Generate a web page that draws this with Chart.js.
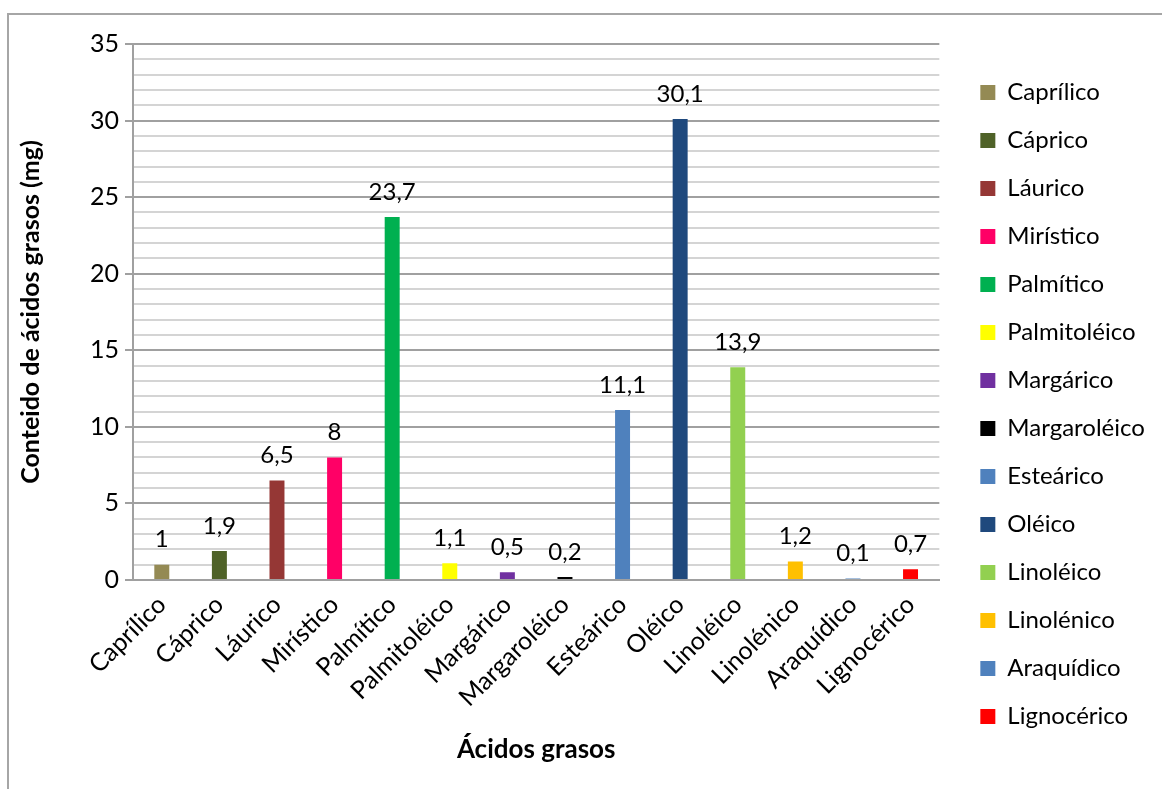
<!DOCTYPE html>
<html>
<head>
<meta charset="utf-8">
<script src="https://cdn.jsdelivr.net/npm/chart.js@4.4.1/dist/chart.umd.min.js"></script>
<style>
  html, body { margin: 0; padding: 0; background: #fff; overflow: hidden; }
  .chart-container { position: relative; width: 1162px; height: 789px; }
  .frame { position: absolute; left: 7px; top: 13px; width: 1200px; height: 800px; border: 2px solid #a6a6a6; box-sizing: border-box; }
  canvas { position: absolute; left: 0; top: 0; }
</style>
</head>
<body>
<div class="chart-container">
  <div class="frame"></div>
  <canvas id="fattyChart" width="1162" height="789"></canvas>
</div>
<script>
const categories = ['Caprílico', 'Cáprico', 'Láurico', 'Mirístico', 'Palmítico', 'Palmitoléico', 'Margárico',
    'Margaroléico', 'Esteárico', 'Oléico', 'Linoléico', 'Linolénico', 'Araquídico', 'Lignocérico'];
const values = [1, 1.9, 6.5, 8, 23.7, 1.1, 0.5, 0.2, 11.1, 30.1, 13.9, 1.2, 0.1, 0.7];
const barColors = ['#948a54', '#4f6228', '#953735', '#ff0066', '#00b050', '#ffff00', '#7030a0',
    '#000000', '#4f81bd', '#1f497d', '#92d050', '#ffc000', '#4f81bd', '#ff0000'];
const yMin = 0;
const yMax = 35;
const yLabelStep = 5;

const fmt = v => String(v).replace('.', ',');

// value labels above each bar
const barLabels = {
    id: 'barLabels',
    afterDatasetsDraw(chart) {
        const ctx = chart.ctx;
        const meta = chart.getDatasetMeta(0);
        ctx.save();
        ctx.font = '24px Lato';
        ctx.fillStyle = '#000';
        ctx.textAlign = 'center';
        ctx.textBaseline = 'bottom';
        meta.data.forEach((bar, i) => {
            ctx.fillText(fmt(values[i]), bar.x, bar.y - 13);
        });
        ctx.restore();
    }
};

const ctx = document.getElementById('fattyChart').getContext('2d');
const chart = new Chart(ctx, {
    type: 'bar',
    data: {
        labels: categories,
        datasets: [{
            data: values,
            backgroundColor: barColors,
            categoryPercentage: 1,
            barPercentage: 0.26
        }]
    },
    options: {
        responsive: false,
        animation: false,
        layout: { padding: { left: 8, top: 44, right: 16, bottom: 24 } },
        scales: {
            x: {
                grid: { display: false },
                border: { display: true, color: '#a0a0a0', width: 2 },
                ticks: {
                    color: '#000',
                    font: { family: 'Lato', size: 25 },
                    minRotation: 45,
                    maxRotation: 45,
                    padding: 2
                },
                title: {
                    display: true,
                    text: 'Ácidos grasos',
                    color: '#000',
                    font: { family: 'Lato', size: 26, weight: 'bold' },
                    padding: { top: 4, bottom: 0 }
                },
                afterFit(scale) { scale.height = 185; }
            },
            y: {
                min: yMin,
                max: yMax,
                grid: {
                    color: c => (c.tick && c.tick.value % yLabelStep === 0) ? '#a0a0a0' : '#d4d4d4',
                    tickColor: c => (c.tick && c.tick.value % yLabelStep === 0) ? '#a0a0a0' : 'rgba(0,0,0,0)',
                    lineWidth: 2,
                    tickLength: 8
                },
                border: { display: true, color: '#a0a0a0', width: 2 },
                ticks: {
                    stepSize: 1,
                    color: '#000',
                    font: { family: 'Lato', size: 25 },
                    padding: 6,
                    autoSkip: false,
                    callback: v => (v % yLabelStep === 0 ? String(v) : '')
                },
                title: {
                    display: true,
                    text: 'Conteido de ácidos grasos (mg)',
                    color: '#000',
                    font: { family: 'Lato', size: 25, weight: 'bold' },
                    padding: { top: 8, bottom: 0 }
                },
                afterFit(scale) { scale.width = 125; }
            },
            gap: {
                position: 'right',
                display: true,
                grid: { display: false },
                border: { display: false },
                ticks: { display: false },
                afterFit(scale) { scale.width = 17; }
            }
        },
        plugins: {
            legend: {
                position: 'right',
                labels: {
                    color: '#000',
                    font: { family: 'Lato', size: 24 },
                    boxWidth: 15,
                    boxHeight: 15,
                    padding: 24,
                    generateLabels: () => categories.map((name, i) => ({
                        text: name,
                        fillStyle: barColors[i],
                        strokeStyle: barColors[i],
                        lineWidth: 0,
                        index: i
                    }))
                }
            },
            tooltip: { enabled: false }
        }
    },
    plugins: [barLabels]
});
</script>
</body>
</html>
